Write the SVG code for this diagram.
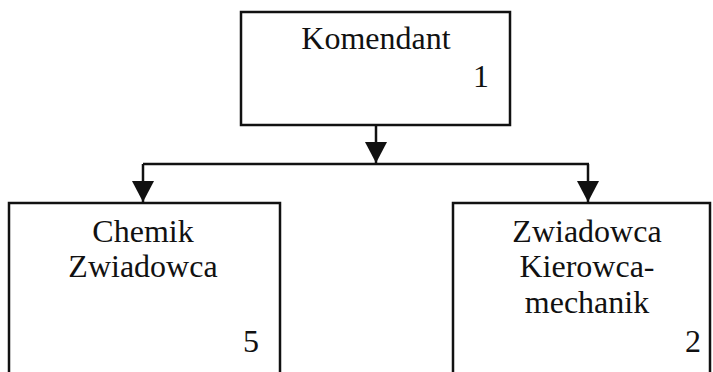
<svg xmlns="http://www.w3.org/2000/svg" width="713" height="372" viewBox="0 0 713 372">
<style>
.box{fill:#fff;stroke:#111;stroke-width:2.5}
.t{font-family:"Liberation Serif","Times New Roman",serif;font-size:32px;fill:#111}
.c{text-anchor:middle}
.r{text-anchor:end}
.ln{fill:none;stroke:#111;stroke-width:2.5}
</style>
<defs>
<marker id="ah" markerWidth="22" markerHeight="22" viewBox="0 0 22 22" refX="11" refY="21" orient="auto-start-reverse" markerUnits="userSpaceOnUse">
<path d="M0,0 L22,0 L11,21 Z" fill="#111"/>
</marker>
</defs>
<rect width="713" height="372" fill="#fff"/>
<g id="connectors">
<line class="ln" x1="376" y1="125" x2="376" y2="163"/>
<path d="M365,142 L387,142 L376,163 Z" fill="#111"/>
<line class="ln" x1="143" y1="164" x2="589" y2="164"/>
<line class="ln" x1="143" y1="164" x2="143" y2="202"/>
<path d="M132,181 L154,181 L143,202 Z" fill="#111"/>
<line class="ln" x1="588" y1="164" x2="588" y2="202"/>
<path d="M577,181 L599,181 L588,202 Z" fill="#111"/>
</g>
<g id="komendant">
<rect class="box" x="241" y="12" width="269" height="113"/>
<text class="t c" x="376" y="49">Komendant</text>
<text class="t r" x="489" y="87">1</text>
</g>
<g id="chemik">
<rect class="box" x="9" y="203" width="271" height="180"/>
<text class="t c" x="143" y="242">Chemik</text>
<text class="t c" x="143" y="277">Zwiadowca</text>
<text class="t r" x="259" y="352">5</text>
</g>
<g id="zwiadowca">
<rect class="box" x="453" y="203" width="257" height="180"/>
<text class="t c" x="587" y="242">Zwiadowca</text>
<text class="t c" x="587" y="277">Kierowca-</text>
<text class="t c" x="587" y="313">mechanik</text>
<text class="t r" x="701" y="352">2</text>
</g>
</svg>
